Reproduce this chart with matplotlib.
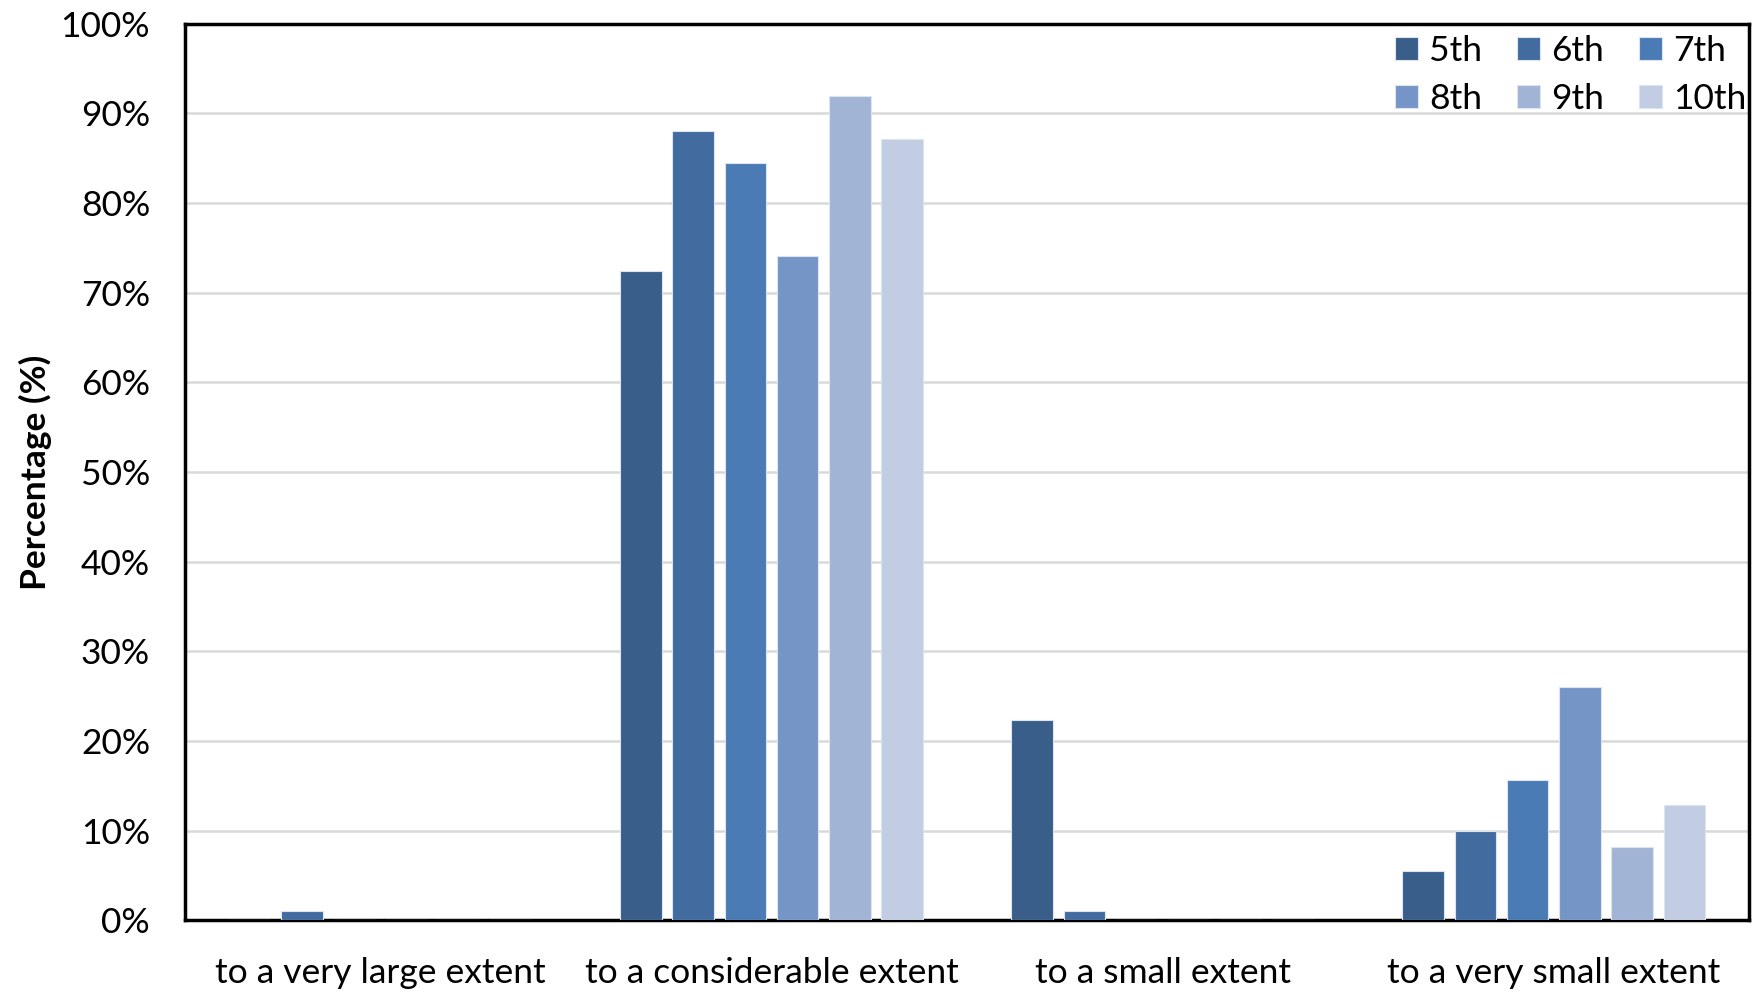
import matplotlib
matplotlib.use("Agg")
import matplotlib.pyplot as plt
import numpy as np

plt.rcParams['font.family'] = ['Lato', 'DejaVu Sans']

categories = ["to a very large extent", "to a considerable extent",
              "to a small extent", "to a very small extent"]
grades = ["5th", "6th", "7th", "8th", "9th", "10th"]
values = {
    "5th":  [0.0, 72.4, 22.4, 5.5],
    "6th":  [1.1, 88.0, 1.1, 10.0],
    "7th":  [0.0, 84.4, 0.0, 15.7],
    "8th":  [0.0, 74.1, 0.0, 26.0],
    "9th":  [0.0, 91.9, 0.0, 8.2],
    "10th": [0.0, 87.1, 0.0, 12.9],
}
colors = ["#3A5E8A", "#426C9F", "#4A7BB4", "#7595C6", "#A2B4D5", "#C2CDE3"]
yticks = [0, 10, 20, 30, 40, 50, 60, 70, 80, 90, 100]

FS = 25.5

fig = plt.figure(figsize=(17.56, 9.92), dpi=100)
ax = fig.add_axes([0.1052, 0.0721, 0.8910, 0.9042])

x = np.arange(len(categories))
step = 0.1335
width = 0.106
handles = []
for i, g in enumerate(grades):
    off = (i - 2.5) * step
    b = ax.bar(x + off, values[g], width=width, color=colors[i],
               edgecolor="#DCE4F0", linewidth=0.8, zorder=3, label=g)
    handles.append(b)

ax.set_xlim(-0.5, len(categories) - 0.5)
ax.set_ylim(0, 100)
ax.set_yticks(yticks)
ax.set_yticklabels([f"{t}%" for t in yticks])
ax.set_xticks(x)
ax.set_xticklabels(categories)
ax.tick_params(axis='both', length=0, labelsize=FS, colors="black")
ax.tick_params(axis='x', pad=26)
ax.tick_params(axis='y', pad=25)
ax.yaxis.grid(True, color="#D9D9D9", linewidth=1.8, zorder=0)
ax.set_axisbelow(True)
for s in ax.spines.values():
    s.set_linewidth(2.5)
    s.set_color("black")

ax.set_ylabel("Percentage (%)", fontsize=FS, fontweight="bold", labelpad=6)

order = [0, 3, 1, 4, 2, 5]
leg = ax.legend([handles[k] for k in order], [grades[k] for k in order],
                ncol=3, loc="upper right", frameon=False, fontsize=FS,
                handlelength=0.65, handleheight=0.65, handletextpad=0.3,
                columnspacing=1.0, labelspacing=0.45,
                bbox_to_anchor=(1.0115, 1.011), borderaxespad=0.2)

fig.savefig("out.png", dpi=100)
